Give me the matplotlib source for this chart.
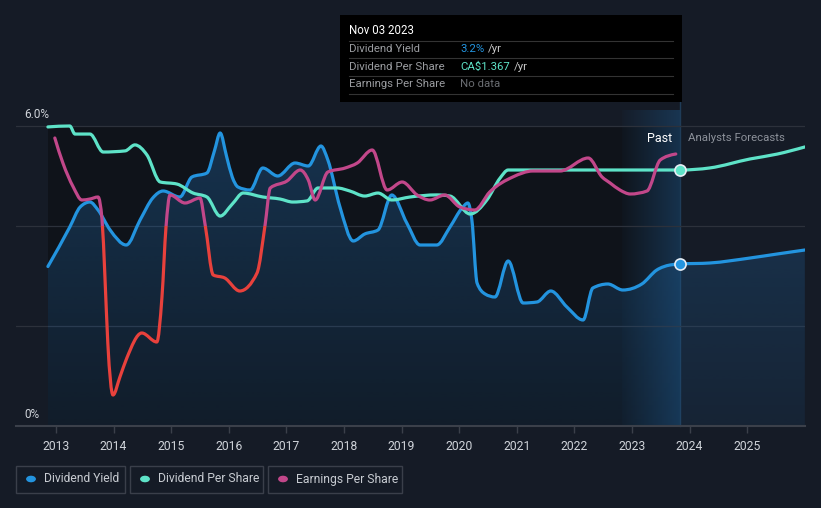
import numpy as np
import matplotlib
matplotlib.use("Agg")
import matplotlib.pyplot as plt
from matplotlib import font_manager
from matplotlib.patches import Rectangle, Circle, PathPatch
from matplotlib.path import Path
from matplotlib.lines import Line2D

plt.rcParams['font.family'] = ['Roboto', 'DejaVu Sans']

# ---- values ----
dy_years = [2012.86, 2013.24, 2013.42, 2013.59, 2013.73, 2013.94, 2014.22, 2014.46,
            2014.68, 2014.86, 2015.15, 2015.36, 2015.62, 2015.75, 2015.85, 2015.96,
            2016.06, 2016.16, 2016.37, 2016.59, 2016.85, 2017.15, 2017.38, 2017.60,
            2017.72, 2017.93, 2018.16, 2018.36, 2018.59, 2018.83, 2019.09, 2019.32,
            2019.61, 2019.84, 2020.05, 2020.15, 2020.22, 2020.31, 2020.45, 2020.62,
            2020.85, 2021.11, 2021.35, 2021.59, 2021.87, 2022.15, 2022.32, 2022.58,
            2022.84, 2023.17, 2023.43, 2023.66, 2023.84]
dy_pct = [3.19, 3.98, 4.38, 4.48, 4.32, 3.92, 3.62, 4.12,
          4.56, 4.70, 4.58, 4.98, 5.06, 5.50, 5.86, 5.40,
          4.98, 4.78, 4.72, 5.16, 5.00, 5.26, 5.20, 5.60,
          5.32, 4.38, 3.70, 3.84, 3.92, 4.62, 4.06, 3.62,
          3.62, 3.98, 4.36, 4.46, 4.12, 2.86, 2.64, 2.58,
          3.30, 2.46, 2.48, 2.70, 2.38, 2.12, 2.76, 2.84,
          2.72, 2.84, 3.12, 3.22, 3.24]
dy_fc_years = [2023.84, 2024.35, 2025.05, 2025.52, 2026.0]
dy_fc_pct = [3.24, 3.26, 3.36, 3.44, 3.52]

dps_years = [2012.86, 2013.24, 2013.33, 2013.59, 2013.82, 2014.20, 2014.37, 2014.58,
             2014.81, 2015.10, 2015.38, 2015.62, 2015.85, 2016.06, 2016.25, 2016.59,
             2016.89, 2017.11, 2017.36, 2017.55, 2017.88, 2018.10, 2018.36, 2018.59,
             2018.83, 2019.15, 2019.61, 2019.84, 2020.19, 2020.48, 2020.71, 2020.85,
             2021.50, 2022.50, 2023.84]
dps_vals = [1.597, 1.602, 1.559, 1.559, 1.463, 1.469, 1.501, 1.447,
            1.303, 1.292, 1.244, 1.223, 1.121, 1.185, 1.244, 1.223,
            1.212, 1.196, 1.202, 1.271, 1.271, 1.255, 1.228, 1.244,
            1.207, 1.223, 1.234, 1.228, 1.132, 1.207, 1.324, 1.367,
            1.367, 1.367, 1.367]
dps_fc_years = [2023.84, 2024.35, 2025.05, 2025.52, 2026.0]
dps_fc_vals = [1.367, 1.378, 1.426, 1.452, 1.490]

eps_years = [2012.98, 2013.12, 2013.30, 2013.45, 2013.59, 2013.73, 2013.80, 2013.85,
             2013.90, 2013.99, 2014.11, 2014.23, 2014.49, 2014.75, 2014.84, 2014.91,
             2014.98, 2015.24, 2015.50, 2015.59, 2015.73, 2015.93, 2016.19, 2016.49,
             2016.63, 2016.72, 2017.01, 2017.24, 2017.38, 2017.50, 2017.72, 2018.02,
             2018.23, 2018.49, 2018.75, 2019.01, 2019.27, 2019.49, 2019.75, 2020.01,
             2020.27, 2020.53, 2020.93, 2021.28, 2021.75, 2022.24, 2022.48, 2022.62,
             2022.79, 2022.97, 2023.26, 2023.49, 2023.76]
eps_vals = [0.88, 0.63, 0.39, 0.26, 0.27, 0.29, 0.06, -0.51,
            -1.17, -1.69, -1.51, -1.32, -1.07, -1.16, -0.71, -0.01,
            0.31, 0.23, 0.28, 0.01, -0.49, -0.52, -0.65, -0.47,
            0.01, 0.38, 0.45, 0.56, 0.46, 0.26, 0.54, 0.58,
            0.63, 0.76, 0.36, 0.44, 0.31, 0.26, 0.31, 0.19,
            0.16, 0.34, 0.49, 0.55, 0.55, 0.68, 0.49, 0.43,
            0.36, 0.32, 0.35, 0.66, 0.72]

year_ticks = list(range(2013, 2026))
now = 2023.84
band_start = 2022.83

# colours
BG = '#151b26'
PAST_BG = '#0f131a'
C_DY = '#2394df'
C_DPS = '#5ee3c8'
C_EPS = '#c2478a'
C_NEG = '#e8413c'
TXT = '#d0d4da'

W, H = 821, 508

installed = {f.name for f in font_manager.fontManager.ttflist}
if 'Liberation Sans Narrow' in installed:
    NARROW, NSIZE = ['Liberation Sans Narrow', 'DejaVu Sans'], 9.5
else:
    NARROW, NSIZE = ['Roboto', 'DejaVu Sans'], 8.2


def px(x, y):
    return x / W, 1 - y / H


def smooth_path(x, y, close_to=None):
    # monotone cubic (like d3 curveMonotoneX) drawn as bezier segments
    x = np.asarray(x, float)
    y = np.asarray(y, float)
    h = np.diff(x)
    s = np.diff(y) / h
    m = np.zeros(len(x))
    for k in range(1, len(x) - 1):
        p = (s[k - 1] * h[k] + s[k] * h[k - 1]) / (h[k - 1] + h[k])
        m[k] = (np.sign(s[k - 1]) + np.sign(s[k])) * min(abs(s[k - 1]), abs(s[k]), 0.5 * abs(p))
    m[0] = (3 * s[0] - m[1]) / 2
    m[-1] = (3 * s[-1] - m[-2]) / 2
    verts = [(x[0], y[0])]
    codes = [Path.MOVETO]
    for k in range(len(h)):
        d = h[k] / 3
        verts += [(x[k] + d, y[k] + m[k] * d), (x[k + 1] - d, y[k + 1] - m[k + 1] * d), (x[k + 1], y[k + 1])]
        codes += [Path.CURVE4] * 3
    if close_to is not None:
        verts += [(x[-1], close_to), (x[0], close_to), (x[0], y[0])]
        codes += [Path.LINETO, Path.LINETO, Path.CLOSEPOLY]
    return Path(verts, codes)


def draw_line(a, x, y, color, z=3):
    patch = PathPatch(smooth_path(x, y), fill=False, edgecolor=color, lw=2.3,
                      capstyle='round', joinstyle='round', transform=a.transData, zorder=z)
    a.add_patch(patch)
    return patch


fig = plt.figure(figsize=(W / 100, H / 100), dpi=100, facecolor=BG)
ax = fig.add_axes([16 / W, 82 / H, 789 / W, 316 / H])
ax.set_facecolor('none')
for sp in ax.spines.values():
    sp.set_visible(False)

xmin, xmax = 2012.306, 2026.003
ymax = 6.32

# darker "past" background and the last-year band
ax.add_patch(Rectangle((dy_years[0], 0), now - dy_years[0], 6, color=PAST_BG, zorder=0, lw=0))
band = np.zeros((1, 64, 4))
band[..., 0], band[..., 1], band[..., 2] = 0.11, 0.30, 0.47
band[0, :, 3] = np.linspace(0.05, 0.55, 64)
ax.imshow(band, extent=[band_start, now, 0, ymax], aspect='auto', zorder=0.5, interpolation='bilinear')
ax.plot([now, now], [0, 6.48], color='#1f3c58', lw=1, zorder=0.6, clip_on=False)

# gridlines
for g in (2, 4, 6):
    ax.axhline(g, color='#2c313b', lw=0.9, zorder=0.7)
ax.axhline(0, color='#3b404a', lw=1.5, zorder=5, clip_on=False)

# gradient area under dividend yield
xs = dy_years + dy_fc_years[1:]
ys = dy_pct + dy_fc_pct[1:]
area = PathPatch(smooth_path(xs, ys, close_to=0), facecolor='none', edgecolor='none',
                 transform=ax.transData)
ax.add_patch(area)
grad = np.zeros((128, 1, 4))
grad[..., 0], grad[..., 1], grad[..., 2] = 0.13, 0.40, 0.64
grad[:, 0, 3] = np.linspace(0.12, 0.40, 128)
im = ax.imshow(grad, extent=[xs[0], xs[-1], 0, ymax], origin='lower', aspect='auto', zorder=1,
               interpolation='bilinear')
im.set_clip_path(area)
draw_line(ax, xs, ys, C_DY)

# dividend per share on its own hidden scale
ax2 = ax.twinx()
ax2.set_ylim(0, 316 * 1.367 / 256)
ax2.axis('off')
draw_line(ax2, dps_years + dps_fc_years[1:], dps_vals + dps_fc_vals[1:], C_DPS)

# earnings per share, red where negative
ax3 = ax.twinx()
ax3.set_ylim(-2.0, 1.16)
ax3.axis('off')
p_pos = draw_line(ax3, eps_years, eps_vals, C_EPS)
p_neg = draw_line(ax3, eps_years, eps_vals, C_NEG)
p_pos.set_clip_path(Rectangle((2010, 0), 20, 10, transform=ax3.transData))
p_neg.set_clip_path(Rectangle((2010, -10), 20, 10, transform=ax3.transData))

# markers at the present
ax.plot([now], [dy_pct[-1]], 'o', ms=8, color=C_DY, mec='#e8eef5', mew=1.2, zorder=6)
ax2.plot([now], [dps_vals[-1]], 'o', ms=8, color=C_DPS, mec='#e8eef5', mew=1.2, zorder=6)

for a in (ax, ax2, ax3):
    a.set_xlim(xmin, xmax)
ax.set_ylim(0, ymax)
ax.set_yticks([])
ax.set_xticks(year_ticks)
ax.set_xticklabels([str(y) for y in year_ticks], family=NARROW, fontsize=NSIZE + 0.5)
ax.tick_params(axis='x', length=5, width=1, color='#3b404a', labelcolor=TXT, pad=5)

# axis labels
fig.text(*px(24, 114), '6.0%', color=TXT, fontsize=8.5, va='center', ha='left')
fig.text(*px(24, 414), '0%', color=TXT, fontsize=8.5, va='center', ha='left')
fig.text(*px(672, 138), 'Past', color='#ffffff', fontsize=9, va='center', ha='right')
fig.text(*px(688, 138), 'Analysts Forecasts', color='#8c919a', fontsize=8.2, va='center', ha='left')

# tooltip
fig.add_artist(Rectangle(px(340, 102), 342 / W, 87 / H, transform=fig.transFigure,
                         facecolor='#000000', edgecolor='none'))
for ly in (41, 58, 76, 94):
    fig.add_artist(Line2D([349 / W, 673 / W], [1 - ly / H] * 2, color='#333333', lw=0.8,
                          transform=fig.transFigure))
fig.text(*px(349, 31), 'Nov 03 2023', color='#ffffff', fontsize=8.3, va='center')
renderer = fig.canvas.get_renderer()
rows = [('Dividend Yield', '3.2%', C_DY, True),
        ('Dividend Per Share', r'CA\$1.367', C_DPS, True),
        ('Earnings Per Share', 'No data', '#6a6d72', False)]
for i, (lab, val, col, unit) in enumerate(rows):
    yy = 49 + i * 17.5
    fig.text(*px(349, yy), lab, color='#9a9ca0', fontsize=8.2, va='center')
    t = fig.text(*px(460, yy), val, color=col, fontsize=8.2, va='center')
    if unit:
        x_end = t.get_window_extent(renderer).x1
        fig.text(*px(x_end + 4, yy), '/yr', color='#c8c8c8', fontsize=8.2, va='center')

# legend
legend = [('Dividend Yield', C_DY, 16, 125), ('Dividend Per Share', C_DPS, 130, 263),
          ('Earnings Per Share', C_EPS, 268, 402)]
for lab, col, x0, x1 in legend:
    fig.add_artist(Rectangle(px(x0, 493), (x1 - x0) / W, 27 / H, transform=fig.transFigure,
                             facecolor='none', edgecolor='#3a3f4a', lw=1))
    fig.add_artist(Circle(px(x0 + 15, 479), 4.2 / W, transform=fig.transFigure, color=col))
    fig.text(*px(x0 + 28, 479), lab, color='#c8ccd2', family=NARROW, fontsize=NSIZE + 0.5,
             va='center')

fig.savefig('out.png', dpi=100, facecolor=BG)
